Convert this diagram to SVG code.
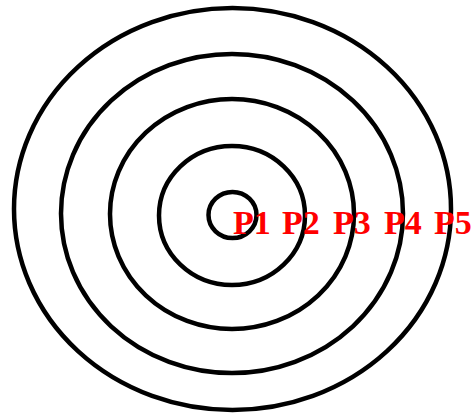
<svg xmlns="http://www.w3.org/2000/svg" width="471" height="419" viewBox="0 0 471 419">
<style>
.ring{fill:none;stroke:#000;stroke-width:4.5}
.lbl{font-family:"Liberation Serif","Times New Roman",serif;font-weight:bold;font-size:34px;fill:#f00}
</style>
<rect width="471" height="419" fill="#fff"/>
<g id="p5"><ellipse class="ring" cx="232.5" cy="209" rx="218.5" ry="201"/></g>
<g id="p4"><ellipse class="ring" cx="232" cy="213.5" rx="171" ry="159.5"/></g>
<g id="p3"><ellipse class="ring" cx="232" cy="214" rx="122" ry="115"/></g>
<g id="p2"><ellipse class="ring" cx="232" cy="215.5" rx="73" ry="69.5"/></g>
<g id="p1"><ellipse class="ring" cx="232.5" cy="215" rx="24" ry="23"/></g>
<g id="labels">
<text class="lbl" x="233" y="234">P1</text>
<text class="lbl" x="282" y="234">P2</text>
<text class="lbl" x="333" y="234">P3</text>
<text class="lbl" x="384" y="234">P4</text>
<text class="lbl" x="434" y="234">P5</text>
</g>
</svg>
